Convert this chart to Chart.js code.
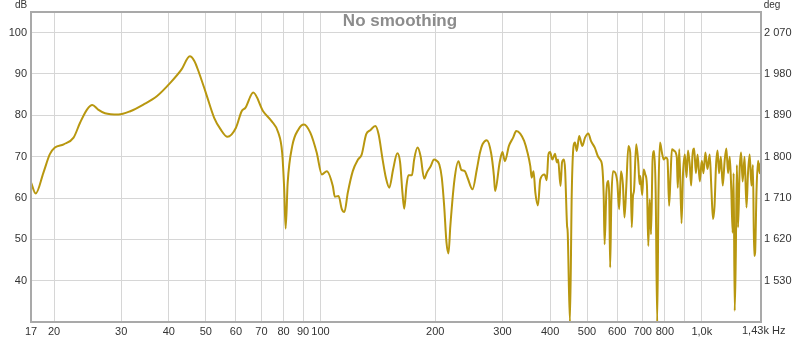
<!DOCTYPE html>
<html>
<head>
<meta charset="utf-8">
<title>No smoothing</title>
<script src="https://cdn.jsdelivr.net/npm/chart.js@4"></script>
<style>
	html, body { margin: 0; padding: 0; background: #fff; }
	canvas { display: block; }
</style>
</head>
<body>
<canvas id="chart" width="800" height="338"></canvas>
<script>
// ─── data (Hz / dB) ───
const freqHz = [
	17.4, 17.9, 18.75, 19.5, 20.1, 21.2, 22.5, 23.4, 24.4, 25.2, 26.1, 27.2, 29.5, 31.7, 34.3, 37.2,
	40.4, 43.2, 45.4, 46.7, 48.0, 50.0, 52.6, 54.7, 57.0, 60.0, 62.1, 63.5, 66.6, 70.7, 74.4, 77.5,
	79.3, 80.3, 81.0, 82.0, 84.3, 87.5, 90.5, 94, 97.7, 100.8, 103.9, 107.7, 109, 111.5, 113.7, 115.5,
	117.9, 121.5, 125.4, 128.2, 131.7, 135, 139.2, 142, 145.5, 148.4, 151.5, 155, 159, 161.7, 164, 165.8,
	168, 170, 173.7, 176, 179.7, 183, 187, 190, 194.5, 198.5, 201, 204.9, 208, 211, 214, 216.6,
	219, 224.6, 230, 234, 239, 243, 250.4, 257, 262, 266, 272.9, 280, 285, 287, 295, 300,
	304.5, 312, 320, 326, 334, 342, 349, 355, 358, 362, 366, 371.8, 377, 387, 392, 396,
	400, 405.6, 412, 417, 420, 426, 430, 435, 438, 443, 445, 451, 456, 461, 465, 470,
	477, 486, 494, 504, 512, 524, 534, 541, 548, 553, 556, 562, 569, 572, 575, 579,
	585, 600, 607, 614, 621, 627, 634, 642, 649, 655, 660, 664, 673, 681, 687, 690,
	698, 704, 711, 718, 724, 730, 736, 743, 750, 757, 764, 770, 777, 786, 795, 805,
	813, 821, 828, 835, 847, 860, 865, 873, 885, 893, 903, 912, 920, 930, 938, 945,
	955, 965, 975, 988, 1000, 1010, 1022, 1035, 1049, 1060, 1070, 1080, 1090, 1100, 1110, 1122,
	1135, 1148, 1160, 1172, 1184, 1195, 1205, 1212, 1220, 1228, 1236, 1245, 1257, 1268, 1280, 1295,
	1310, 1322, 1335, 1350, 1362, 1372, 1380, 1392, 1405, 1418, 1427
];
const levelDb = [
	63.8, 61.1, 66.1, 70.6, 72.2, 73.0, 74.6, 78.2, 81.4, 82.5, 81.4, 80.5, 80.2, 81.0, 82.6, 84.6,
	87.9, 91.1, 94.3, 93.1, 90.3, 85.5, 79.4, 76.6, 74.8, 77.0, 81.0, 81.8, 85.5, 81.0, 78.6, 75.8,
	71.0, 62.1, 52.6, 63.7, 72.6, 76.6, 77.8, 75.8, 71.0, 65.7, 66.5, 62.9, 60.3, 60.5, 57.3, 56.6,
	61.3, 66.5, 69.3, 70.5, 75.4, 76.4, 77.4, 75.4, 69.3, 64.9, 62.5, 66.9, 70.8, 68.6, 61.3, 57.4,
	62.9, 65.5, 65.5, 69.3, 72.2, 70.1, 64.7, 66.1, 67.7, 69.3, 69.1, 68.1, 64.9, 58.1, 49.2, 46.6,
	53.2, 64.5, 68.9, 66.8, 66.5, 64.9, 62.1, 66.9, 71.0, 73.0, 74.0, 71.0, 65.3, 61.7, 68.6, 71.1,
	68.9, 72.6, 74.6, 76.2, 75.6, 73.8, 71.0, 67.7, 64.9, 66.5, 61.3, 58.2, 64.5, 65.7, 64.3, 70.5,
	71.1, 69.3, 70.7, 68.6, 69.3, 62.9, 68.6, 69.3, 66.9, 53.6, 51.6, 30.0, 61.3, 72.6, 73.4, 71.4,
	75.0, 72.6, 74.6, 75.6, 73.8, 72.2, 70.1, 69.3, 67.7, 60.5, 48.8, 61.3, 64.1, 59.7, 43.2, 58.9,
	66.5, 64.1, 57.3, 66.5, 63.3, 55.3, 62.9, 72.6, 71.0, 52.9, 60.5, 61.7, 73.0, 68.9, 63.3, 65.3,
	60.7, 66.9, 65.7, 63.1, 48.4, 59.7, 51.2, 69.3, 71.4, 61.3, 30.0, 61.3, 73.4, 71.0, 69.3, 69.8,
	69.3, 58.1, 65.3, 71.8, 71.4, 69.8, 62.5, 71.8, 53.9, 66.0, 70.5, 65.0, 71.5, 68.0, 63.0, 70.0,
	72.0, 66.0, 70.5, 64.0, 69.0, 66.0, 71.0, 67.0, 70.5, 62.0, 54.9, 58.0, 68.0, 71.5, 66.0, 70.0,
	63.0, 69.0, 72.0, 66.0, 70.0, 62.0, 51.6, 66.0, 32.7, 46.0, 68.0, 52.9, 67.0, 71.0, 64.0, 70.0,
	57.7, 66.0, 70.5, 63.0, 68.0, 46.0, 46.8, 62.0, 69.0, 66.0, 68.5
];

// ─── axis ticks ───
const xTicks   = [17.4, 20, 30, 40, 50, 60, 70, 80, 90, 100, 200, 300, 400, 500, 600, 700, 800, 900, 1000, 1430];
const xLabels  = ['17', '20', '30', '40', '50', '60', '70', '80', '90', '100', '200', '300', '400', '500', '600', '700', '800', '', '1,0k', ''];
const dbTicks  = [40, 50, 60, 70, 80, 90, 100];
const degTicks = [1530, 1620, 1710, 1800, 1890, 1980, 2070];

const FONT = "'Liberation Sans', Arial, sans-serif";
const points = freqHz.map((f, i) => ({ x: f, y: levelDb[i] }));

// ─── frame, title and unit labels ───
const decorations = {
	id: 'decorations',
	afterDraw(chart) {
		const { ctx, chartArea: a } = chart;
		ctx.save();
		ctx.strokeStyle = '#a9a9a9';
		ctx.lineWidth = 2;
		ctx.strokeRect(a.left, a.top, a.right - a.left, a.bottom - a.top);

		ctx.fillStyle = '#8c8c8c';
		ctx.font = `bold 17px ${FONT}`;
		ctx.textAlign = 'center';
		ctx.textBaseline = 'middle';
		ctx.fillText('No smoothing', 400, 21);

		ctx.fillStyle = '#333';
		ctx.font = `10px ${FONT}`;
		ctx.fillText('dB', 21, 5);
		ctx.fillText('deg', 772, 5);

		ctx.font = `11px ${FONT}`;
		ctx.textAlign = 'left';
		ctx.fillText('1,43k Hz', 742, 331);
		ctx.restore();
	}
};

new Chart(document.getElementById('chart'), {
	type: 'line',
	data: {
		datasets: [{
			data: points,
			borderColor: '#b8970f',
			borderWidth: 2,
			pointRadius: 0,
			cubicInterpolationMode: 'monotone',
			fill: false,
			yAxisID: 'y',
		}]
	},
	options: {
		responsive: false,
		animation: false,
		layout: { padding: { top: 12, left: 0, right: 0, bottom: 0 } },
		plugins: { legend: { display: false }, tooltip: { enabled: false } },
		scales: {
			x: {
				type: 'logarithmic',
				min: 17.4,
				max: 1430,
				afterBuildTicks: axis => { axis.ticks = xTicks.map(v => ({ value: v })); },
				afterFit: axis => { axis.height = 16; },
				grid: { color: '#d6d6d6', drawTicks: false },
				border: { display: false },
				ticks: {
					autoSkip: false,
					maxRotation: 0,
					padding: 3,
					color: '#333',
					font: { family: FONT, size: 11 },
					callback: (v, i) => xLabels[i],
				}
			},
			y: {
				position: 'left',
				min: 30,
				max: 105,
				afterBuildTicks: axis => { axis.ticks = dbTicks.map(v => ({ value: v })); },
				afterFit: axis => { axis.width = 31; },
				grid: { color: '#d6d6d6', drawTicks: false },
				border: { display: false },
				ticks: { padding: 4, color: '#333', font: { family: FONT, size: 11 } }
			},
			y2: {
				position: 'right',
				min: 1440,
				max: 2115,
				afterBuildTicks: axis => { axis.ticks = degTicks.map(v => ({ value: v })); },
				afterFit: axis => { axis.width = 39; },
				grid: { display: false, drawTicks: false },
				border: { display: false },
				ticks: {
					padding: 3,
					color: '#333',
					font: { family: FONT, size: 11 },
					callback: v => Math.floor(v / 1000) + ' ' + String(v % 1000).padStart(3, '0'),
				}
			}
		}
	},
	plugins: [decorations]
});
</script>
</body>
</html>
